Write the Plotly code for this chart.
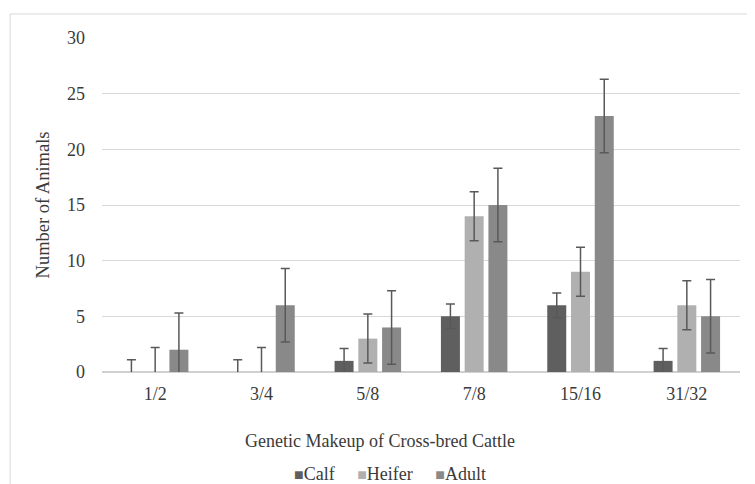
import plotly.graph_objects as go

categories = ["1/2", "3/4", "5/8", "7/8", "15/16", "31/32"]
calf = [0, 0, 1, 5, 6, 1]
heifer = [0, 0, 3, 14, 9, 6]
adult = [2, 6, 4, 15, 23, 5]
calf_err = [1.1, 1.1, 1.1, 1.1, 1.1, 1.1]
heifer_err = [2.2, 2.2, 2.2, 2.2, 2.2, 2.2]
adult_err = [3.3, 3.3, 3.3, 3.3, 3.3, 3.3]
y_ticks = [0, 5, 10, 15, 20, 25, 30]
series_names = ["Calf", "Heifer", "Adult"]
series_colors = ["#5f5f5f", "#b0b0b0", "#898989"]

font_family = "Liberation Serif, Times New Roman, serif"
text_color = "#3a3a3a"
err_color = "#595959"

fig = go.Figure()
for name, vals, errs, color in zip(series_names, [calf, heifer, adult],
                                   [calf_err, heifer_err, adult_err], series_colors):
    fig.add_trace(go.Bar(
        x=categories, y=vals, name=name, marker_color=color,
        marker_line_width=0, showlegend=False,
        error_y=dict(type="data", array=errs, visible=True,
                     color=err_color, thickness=1.5, width=4.5),
    ))

sp = "&nbsp;"
legend_text = (sp * 5).join(
    f"<span style='color:{c};font-size:16px'>■</span>{n}"
    for n, c in zip(series_names, series_colors)
)

fig.update_layout(
    width=747, height=476,
    margin=dict(l=94, r=15, t=30, b=112, autoexpand=False),
    paper_bgcolor="white", plot_bgcolor="white",
    barmode="group", bargap=0.33, bargroupgap=0.2,
    font=dict(family=font_family, size=18, color=text_color),
    showlegend=False,
    xaxis=dict(
        showgrid=False, showline=False, ticks="", ticklabelstandoff=9,
        tickfont=dict(size=18), automargin=False,
    ),
    yaxis=dict(
        title=dict(text="Number of Animals", standoff=12, font=dict(size=18.5)),
        range=[0, 30], tickvals=y_ticks, showgrid=True, gridcolor="#d9d9d9",
        gridwidth=1.3, zeroline=True, zerolinecolor="#d0d0d0", zerolinewidth=1.5,
        showline=False, ticks="", ticklabelstandoff=16, tickfont=dict(size=18),
        automargin=False,
    ),
    annotations=[
        dict(text="Genetic Makeup of Cross-bred Cattle", xref="paper", yref="paper",
             x=0.436, y=-0.207, xanchor="center", yanchor="middle",
             showarrow=False, font=dict(size=18)),
        dict(text=legend_text, xref="paper", yref="paper",
             x=0.452, y=-0.305, xanchor="center", yanchor="middle",
             showarrow=False, font=dict(size=18, family=font_family)),
    ],
    shapes=[
        dict(type="line", xref="paper", yref="paper", x0=-0.144, x1=1.05,
             y0=1.072, y1=1.072, line=dict(color="#d9d9d9", width=1)),
        dict(type="line", xref="paper", yref="paper", x0=-0.144, x1=-0.144,
             y0=1.072, y1=-0.4, line=dict(color="#d9d9d9", width=1)),
    ],
)

fig.write_html("out.html")
